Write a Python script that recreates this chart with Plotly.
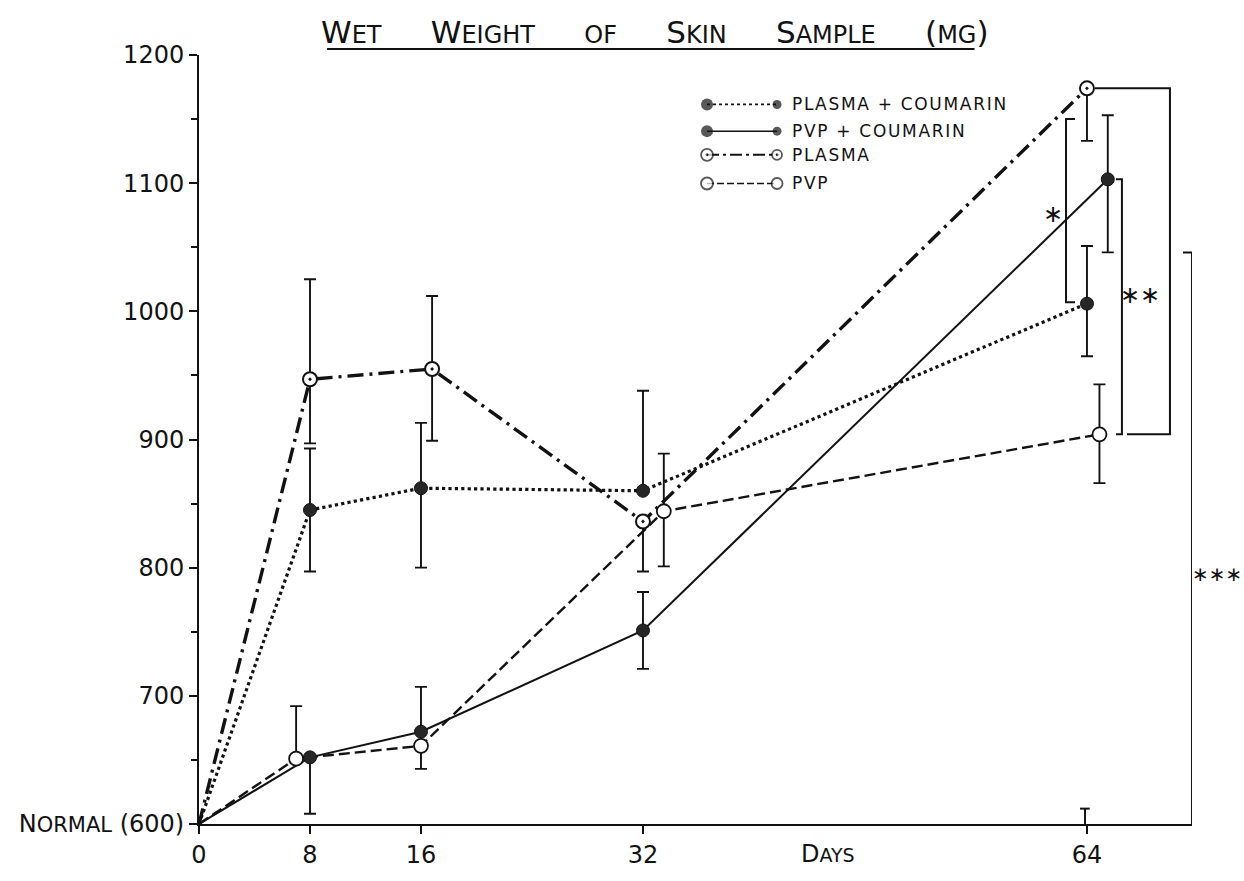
import plotly.graph_objects as go

# ---------------- data ----------------
days = [0, 8, 16, 32, 64]
day_labels = ["0", "8", "16", "32", "64"]
y_ticks = [600, 700, 800, 900, 1000, 1100, 1200]
y_tick_labels = ["N<span style='font-size:21px'>ORMAL</span> (600)",
                 "700", "800", "900", "1000", "1100", "1200"]

series_names = ["PLASMA + COUMARIN", "PVP + COUMARIN", "PLASMA", "PVP"]

plasma_coumarin = [600, 845, 862, 860, 1006]
plasma_coumarin_hi = [None, 893, 913, 938, 1051]
plasma_coumarin_lo = [None, 797, 800, None, 965]

pvp_coumarin = [600, 652, 672, 751, 1103]
pvp_coumarin_hi = [None, None, 707, 781, 1153]
pvp_coumarin_lo = [None, 608, None, 721, 1046]

plasma = [600, 947, 955, 836, 1174]
plasma_hi = [None, 1025, 1012, None, None]
plasma_lo = [None, 897, 899, 797, 1133]

pvp = [600, 651, 661, 844, 904]
pvp_hi = [None, 692, None, 889, 943]
pvp_lo = [None, None, 643, 801, 866]

# ---------------- styles ----------------
FONT = "DejaVu Sans"
INK = "#121212"
FILL = "#262626"

# small horizontal dodge (in days) so overlapping symbols sit side by side
dodge = {
    "pc": [0, 0, 0, 0, 0],
    "vc": [0, 0, 0, 0, 1.5],
    "pl": [0, 0, 0.8, 0, 0],
    "pv": [0, -1.0, 0, 1.5, 0.9],
}

series = [
    ("pc", series_names[0], plasma_coumarin, plasma_coumarin_hi, plasma_coumarin_lo,
     dict(dash="dot", width=3.2), dict(symbol="circle", color=FILL, size=13, line=dict(color=INK, width=1))),
    ("vc", series_names[1], pvp_coumarin, pvp_coumarin_hi, pvp_coumarin_lo,
     dict(dash="solid", width=2), dict(symbol="circle", color=FILL, size=13, line=dict(color=INK, width=1))),
    ("pl", series_names[2], plasma, plasma_hi, plasma_lo,
     dict(dash="16px,6px,3px,6px", width=3.4), dict(symbol="circle-dot", color="white", size=14, line=dict(color=INK, width=2))),
    ("pv", series_names[3], pvp, pvp_hi, pvp_lo,
     dict(dash="11px,5px", width=2.4), dict(symbol="circle", color="white", size=14, line=dict(color=INK, width=1.8))),
]

fig = go.Figure()

# lines first
for key, name, vals, hi, lo, lstyle, mstyle in series:
    xs = [d + o for d, o in zip(days, dodge[key])]
    fig.add_trace(go.Scatter(x=xs, y=vals, mode="lines", line=dict(color=INK, **lstyle),
                             showlegend=False, hoverinfo="skip"))

# markers + error bars (day 0 is the common normal baseline, no marker)
for key, name, vals, hi, lo, lstyle, mstyle in series:
    xs = [d + o for d, o in zip(days, dodge[key])][1:]
    ys = vals[1:]
    up = [(h - v) if h is not None else 0 for h, v in zip(hi[1:], ys)]
    dn = [(v - l) if l is not None else 0 for l, v in zip(lo[1:], ys)]
    fig.add_trace(go.Scatter(
        x=xs, y=ys, mode="markers", name=name, showlegend=False,
        marker=mstyle,
        error_y=dict(type="data", symmetric=False, array=up, arrayminus=dn,
                     color=INK, thickness=1.9, width=6),
    ))

# ---------------- hand-drawn style key (auxiliary axes) ----------------
key_rows = [0.9357, 0.9010, 0.8702, 0.8329]
key_x = [0.5116, 0.5821]
key_line_styles = [dict(dash="dot", width=1.8), dict(dash="solid", width=1.5),
                   dict(dash="12px,4px,3px,4px", width=2), dict(dash="7px,3px", width=1.6)]
key_markers = [
    dict(symbol="circle", color=INK, size=[12, 9], line=dict(color=INK, width=0)),
    dict(symbol="circle", color=INK, size=[12, 9], line=dict(color=INK, width=0)),
    dict(symbol="circle-dot", color="white", size=[12, 10], line=dict(color=INK, width=1.8)),
    dict(symbol="circle", color="white", size=[12, 11], line=dict(color=INK, width=1.8)),
]
for row, ls, mk in zip(key_rows, key_line_styles, key_markers):
    fig.add_trace(go.Scatter(x=key_x, y=[row, row], xaxis="x2", yaxis="y2",
                             mode="lines+markers", line=dict(color=INK, **ls), marker=mk,
                             showlegend=False, hoverinfo="skip"))

annotations = []
hs = "\u200a"
for row, name in zip(key_rows, series_names):
    annotations.append(dict(x=0.5952, y=row, xref="paper", yref="paper", xanchor="left",
                            yanchor="middle", showarrow=False,
                            text=hs.join(name),
                            font=dict(family=FONT, size=17, color=INK)))

# title (small caps, underlined)
sp = "\u00a0" * 5
def sc(big, small):
    return big + "<span style='font-size:24px'>" + small + "</span>"
title_txt = sp.join([sc("W", "ET"), sc("W", "EIGHT"), sc("", "OF"), sc("S", "KIN"),
                     sc("S", "AMPLE"), "(" + sc("", "MG") + ")"])
annotations.append(dict(x=0.459, y=1.0296, xref="paper", yref="paper", xanchor="center",
                        yanchor="middle", showarrow=False, text=title_txt,
                        font=dict(family=FONT, size=31, color=INK)))

# x-axis caption
annotations.append(dict(x=45.3, y=0, xref="x", yref="paper", xanchor="center", yanchor="top",
                        yshift=-14, showarrow=False,
                        text="D<span style='font-size:19px'>AYS</span>",
                        font=dict(family=FONT, size=24, color=INK)))

# significance marks
annotations.append(dict(x=61.55, y=1076, xref="x", yref="y", xanchor="center", yanchor="middle",
                        showarrow=False, text="\u2217",
                        font=dict(family=FONT, size=24, color=INK)))
annotations.append(dict(x=67.8, y=1013, xref="x", yref="y", xanchor="center", yanchor="middle",
                        showarrow=False, text="\u2217\u2217",
                        font=dict(family=FONT, size=24, color=INK)))
annotations.append(dict(x=1.025, y=0.325, xref="paper", yref="paper", xanchor="center",
                        yanchor="middle", showarrow=False,
                        text="\u2217\u2217\u2217", font=dict(family=FONT, size=20, color=INK)))

shapes = []
def bracket(pts):
    path = "M " + " L ".join(f"{x},{y}" for x, y in pts)
    shapes.append(dict(type="path", path=path, xref="x", yref="y",
                       line=dict(color=INK, width=2)))

bracket([(63.14, 1150), (62.49, 1150), (62.49, 1007), (63.14, 1007)])
bracket([(66.09, pvp_coumarin[-1]), (66.52, pvp_coumarin[-1]), (66.52, pvp[-1]), (66.09, pvp[-1])])
bracket([(64.58, plasma[-1]), (69.98, plasma[-1]), (69.98, pvp[-1]), (66.88, pvp[-1])])
bracket([(70.92, pvp_coumarin_lo[-1]), (71.57, pvp_coumarin_lo[-1]), (71.57, 600)])
# stray small cap drawn just above the axis at day 64 in the original
bracket([(63.86, 600), (63.86, 612)])
bracket([(63.5, 612), (64.2, 612)])

# title underline
shapes.append(dict(type="line", xref="paper", yref="paper", x0=0.129, x1=0.781,
                   y0=1.0077, y1=1.0077, line=dict(color=INK, width=2)))

fig.update_layout(
    width=1244, height=881,
    margin=dict(l=199, r=52, t=55, b=48),
    paper_bgcolor="white", plot_bgcolor="white",
    font=dict(family=FONT, color=INK),
    showlegend=False,
    annotations=annotations, shapes=shapes,
    xaxis=dict(range=[0, 71.57], tickmode="array", tickvals=days, ticktext=day_labels,
               showline=True, linecolor=INK, linewidth=2, ticks="outside", ticklen=8,
               tickwidth=2, tickcolor=INK, showgrid=False, zeroline=False,
               tickfont=dict(family=FONT, size=24, color=INK)),
    yaxis=dict(range=[600, 1200], tickmode="array", tickvals=y_ticks, ticktext=y_tick_labels,
               showline=True, linecolor=INK, linewidth=2, ticks="outside", ticklen=8,
               tickwidth=2, tickcolor=INK, showgrid=False, zeroline=False,
               minor=dict(tickmode="linear", tick0=650, dtick=100, ticks="outside",
                          ticklen=6, tickwidth=1.5, tickcolor=INK),
               tickfont=dict(family=FONT, size=24, color=INK)),
    xaxis2=dict(range=[0, 1], overlaying="x", anchor="y2", visible=False),
    yaxis2=dict(range=[0, 1], overlaying="y", anchor="x2", visible=False),
)

fig.write_html("out.html")
